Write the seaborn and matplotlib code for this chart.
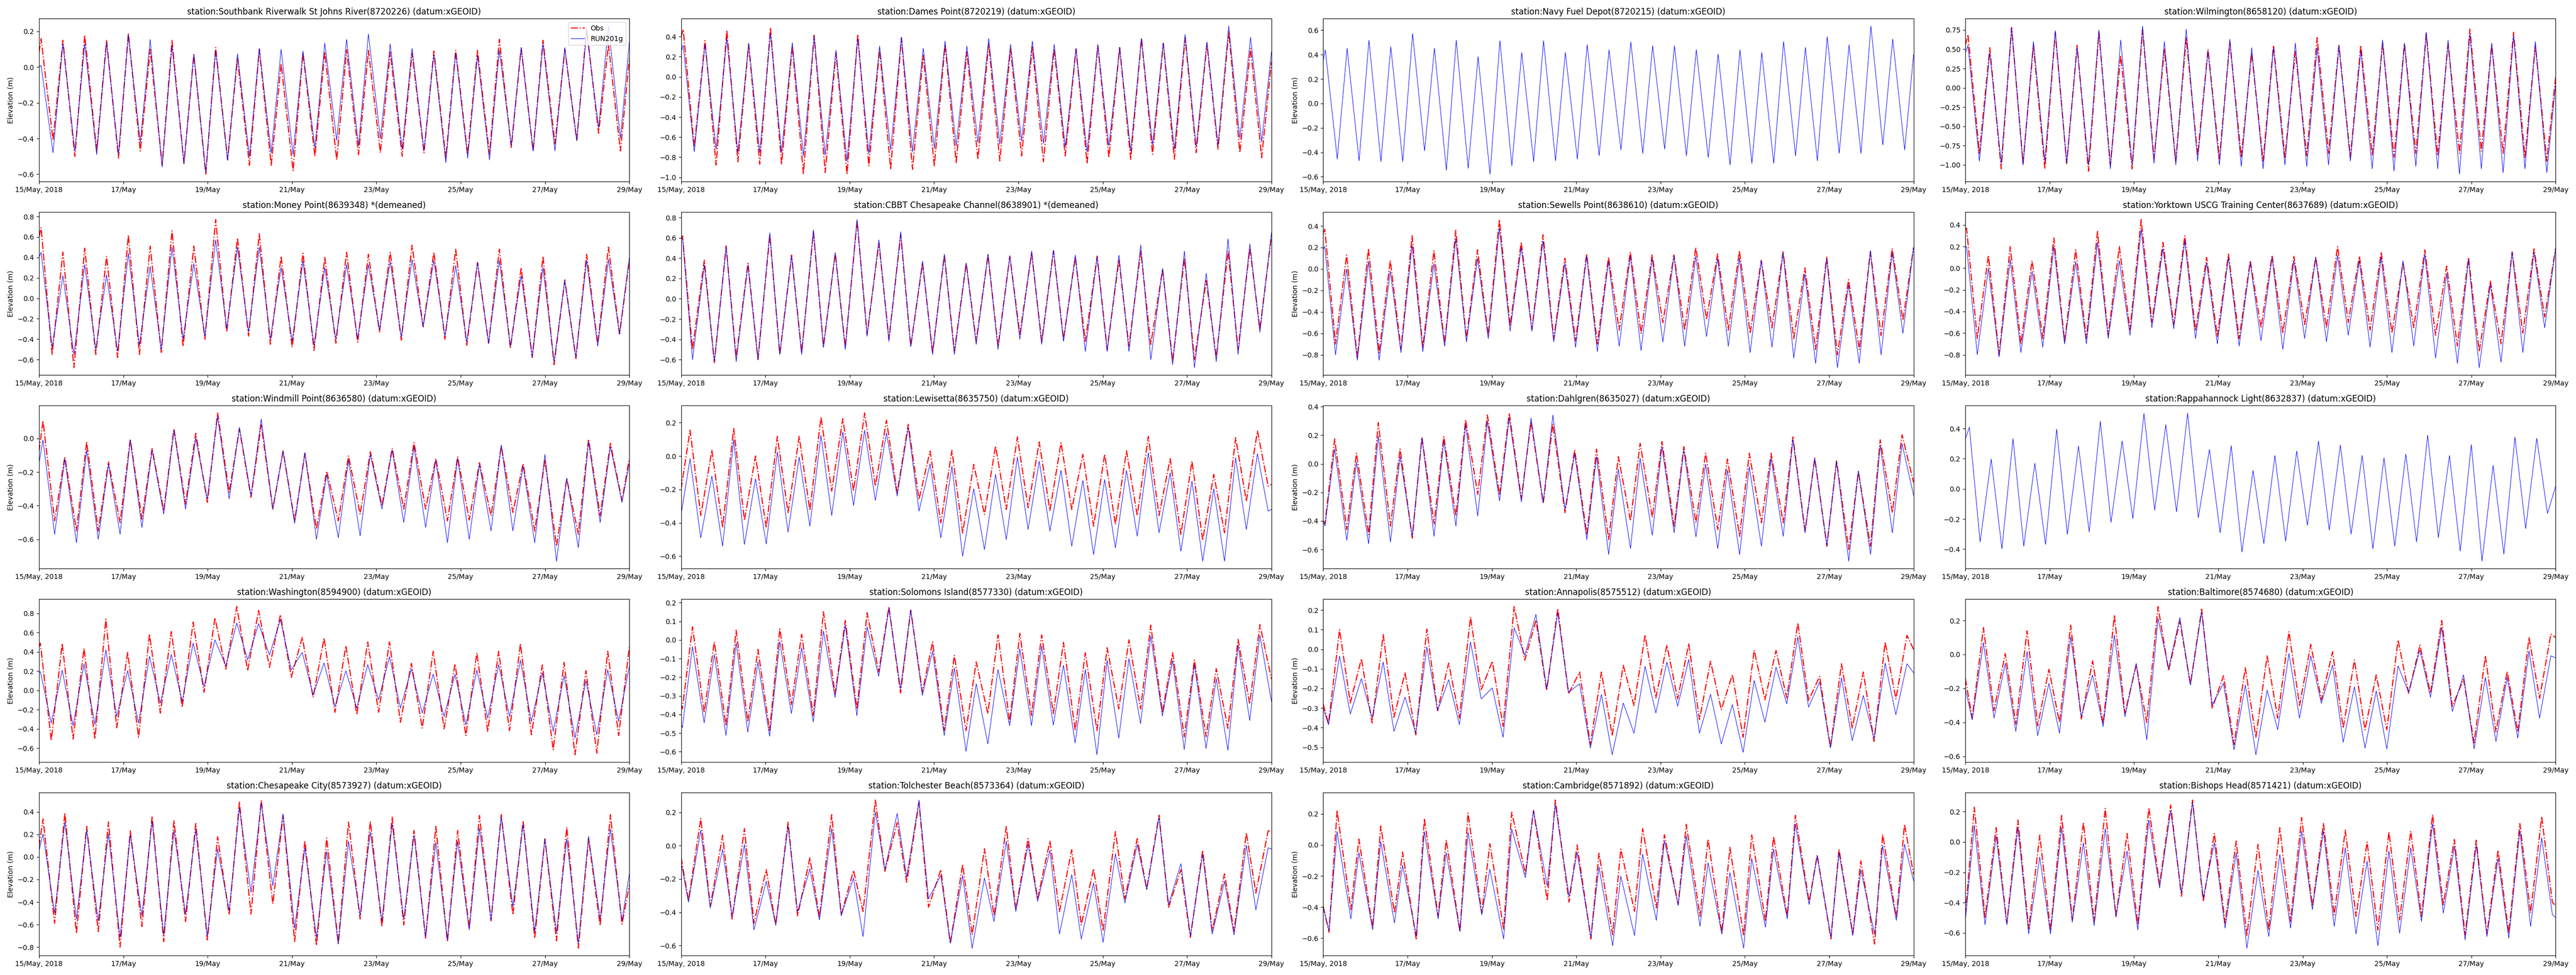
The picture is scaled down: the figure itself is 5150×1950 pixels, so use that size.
import matplotlib
matplotlib.use("Agg")
import matplotlib.pyplot as plt
import seaborn as sns

# Reloj semidiurno (12.42 h) contado desde la primera pleamar / bajamar de cada estación
tide_clock = [0.0, 12.42, 24.84, 37.26, 49.68, 62.10, 74.52, 86.94, 99.36,
              111.78, 124.20, 136.62, 149.04, 161.46, 173.88, 186.30, 198.72,
              211.14, 223.56, 235.98, 248.40, 260.82, 273.24, 285.66, 298.08,
              310.50, 322.92]

# Eje x: horas desde 15/May/2018 00:00
tick_hours = [0, 48, 96, 144, 192, 240, 288, 336]
tick_labels = ["15/May, 2018", "17/May", "19/May", "21/May", "23/May", "25/May", "27/May", "29/May"]

titles = [
    "station:Southbank Riverwalk St Johns River(8720226) (datum:xGEOID)",
    "station:Dames Point(8720219) (datum:xGEOID)",
    "station:Navy Fuel Depot(8720215) (datum:xGEOID)",
    "station:Wilmington(8658120) (datum:xGEOID)",
    "station:Money Point(8639348) *(demeaned)",
    "station:CBBT Chesapeake Channel(8638901) *(demeaned)",
    "station:Sewells Point(8638610) (datum:xGEOID)",
    "station:Yorktown USCG Training Center(8637689) (datum:xGEOID)",
    "station:Windmill Point(8636580) (datum:xGEOID)",
    "station:Lewisetta(8635750) (datum:xGEOID)",
    "station:Dahlgren(8635027) (datum:xGEOID)",
    "station:Rappahannock Light(8632837) (datum:xGEOID)",
    "station:Washington(8594900) (datum:xGEOID)",
    "station:Solomons Island(8577330) (datum:xGEOID)",
    "station:Annapolis(8575512) (datum:xGEOID)",
    "station:Baltimore(8574680) (datum:xGEOID)",
    "station:Chesapeake City(8573927) (datum:xGEOID)",
    "station:Tolchester Beach(8573364) (datum:xGEOID)",
    "station:Cambridge(8571892) (datum:xGEOID)",
    "station:Bishops Head(8571421) (datum:xGEOID)",
]

# hora de la primera pleamar y de la primera bajamar
high_hour0 = [1.2, 1.2, 1.2, 1.5, 1.2, 0.8, 0.9, 0.7, 2.3, 5.1,
              6.5, 2.3, 0.8, 6.5, 9.3, 10.3, 2.3, 11.2, 7.9, 5.1]
low_hour0 = [8.0, 7.5, 8.0, 8.0, 7.5, 6.5, 7.0, 6.8, 8.9, 11.2,
             1.0, 8.4, 7.0, 0.7, 3.0, 3.9, 8.9, 4.2, 3.3, 11.2]

# valores en el borde izquierdo (15/May) y derecho (29/May)
obs_start = [0.08, 0.40, None, 0.55, 0.60, 0.60, 0.33, 0.36, -0.08, -0.20,
             -0.40, None, 0.45, -0.35, -0.28, -0.14, 0.09, -0.07, -0.395, -0.48]
obs_end = [0.05, 0.15, None, 0.15, 0.37, 0.62, 0.20, 0.19, -0.12, -0.17,
           -0.13, None, 0.45, -0.21, 0.0, 0.10, -0.25, 0.085, -0.19, -0.42]
mod_start = [0.0, 0.25, 0.35, 0.45, 0.40, 0.58, 0.18, 0.19, -0.15, -0.35,
             -0.40, 0.33, 0.18, -0.45, -0.30, -0.20, 0.05, -0.10, -0.40, -0.52]
mod_end = [0.14, 0.25, 0.40, 0.05, 0.40, 0.65, 0.20, 0.19, -0.15, -0.32,
           -0.22, 0.02, 0.25, -0.33, -0.12, -0.02, -0.15, -0.02, -0.23, -0.50]

# ---- Southbank Riverwalk St Johns River
southbank_obs_hi = [0.16, 0.15, 0.18, 0.15, 0.19, 0.10, 0.15, 0.07, 0.11, 0.05, 0.10, 0.02, 0.08, 0.085,
                    0.097, 0.094, 0.085, 0.08, 0.09, 0.094, 0.094, 0.156, 0.108, 0.15, 0.10, 0.215, 0.127]
southbank_obs_lo = [-0.41, -0.50, -0.47, -0.51, -0.47, -0.55, -0.54, -0.60, -0.52, -0.55, -0.55, -0.58, -0.50, -0.52,
                    -0.49, -0.48, -0.50, -0.48, -0.51, -0.49, -0.49, -0.45, -0.47, -0.43, -0.41, -0.37, -0.47]
southbank_mod_hi = [0.01, 0.13, 0.13, 0.14, 0.18, 0.155, 0.12, 0.07, 0.09, 0.075, 0.105, 0.10, 0.09, 0.135,
                    0.155, 0.185, 0.13, 0.105, 0.07, 0.08, 0.065, 0.095, 0.11, 0.13, 0.11, 0.20, 0.23]
southbank_mod_lo = [-0.48, -0.47, -0.49, -0.49, -0.42, -0.56, -0.54, -0.59, -0.52, -0.50, -0.48, -0.49, -0.45, -0.41,
                    -0.44, -0.40, -0.46, -0.465, -0.535, -0.51, -0.52, -0.44, -0.47, -0.47, -0.41, -0.34, -0.40]

# ---- Dames Point
dames_obs_hi = [0.472, 0.361, 0.464, 0.323, 0.489, 0.306, 0.414, 0.24, 0.422, 0.273, 0.389, 0.215, 0.323, 0.249,
                0.331, 0.278, 0.298, 0.278, 0.278, 0.315, 0.29, 0.384, 0.331, 0.389, 0.331, 0.45, 0.282]
dames_obs_lo = [-0.70, -0.878, -0.845, -0.87, -0.87, -0.969, -0.953, -0.969, -0.886, -0.92, -0.92, -0.886, -0.853, -0.82,
                -0.837, -0.787, -0.845, -0.787, -0.862, -0.804, -0.82, -0.77, -0.82, -0.754, -0.72, -0.754, -0.804]
dames_mod_hi = [0.315, 0.323, 0.381, 0.335, 0.431, 0.34, 0.406, 0.265, 0.381, 0.306, 0.394, 0.285, 0.356, 0.306,
                0.381, 0.323, 0.356, 0.323, 0.282, 0.315, 0.295, 0.381, 0.34, 0.422, 0.348, 0.505, 0.394]
dames_mod_lo = [-0.746, -0.72, -0.754, -0.754, -0.754, -0.787, -0.779, -0.837, -0.762, -0.729, -0.746, -0.712, -0.688, -0.654,
                -0.671, -0.638, -0.663, -0.696, -0.746, -0.688, -0.737, -0.679, -0.72, -0.696, -0.679, -0.613, -0.646]

# ---- Navy Fuel Depot (sin observaciones)
navy_mod_hi = [0.439, 0.452, 0.518, 0.466, 0.573, 0.452, 0.518, 0.384, 0.514, 0.418, 0.514, 0.418, 0.482, 0.439,
               0.504, 0.473, 0.473, 0.441, 0.405, 0.439, 0.418, 0.507, 0.459, 0.548, 0.48, 0.634, 0.528]
navy_mod_lo = [-0.456, -0.47, -0.477, -0.477, -0.388, -0.548, -0.532, -0.58, -0.511, -0.477, -0.47, -0.456, -0.429, -0.381,
               -0.409, -0.374, -0.429, -0.443, -0.504, -0.491, -0.491, -0.429, -0.47, -0.409, -0.409, -0.34, -0.381]

# ---- Wilmington
wilmington_obs_hi = [0.69, 0.52, 0.78, 0.55, 0.72, 0.55, 0.72, 0.42, 0.75, 0.50, 0.65, 0.50, 0.60, 0.45,
                     0.55, 0.47, 0.65, 0.55, 0.55, 0.58, 0.57, 0.70, 0.57, 0.76, 0.55, 0.72, 0.55]
wilmington_obs_lo = [-0.85, -1.05, -0.98, -1.05, -0.98, -1.08, -1.0, -1.05, -0.92, -0.95, -0.88, -0.92, -0.90, -0.95,
                     -0.90, -0.88, -0.85, -0.90, -0.87, -0.90, -0.85, -0.88, -0.85, -0.82, -0.85, -0.90, -0.95]
wilmington_mod_hi = [0.55, 0.45, 0.78, 0.60, 0.74, 0.52, 0.75, 0.62, 0.80, 0.60, 0.76, 0.48, 0.63, 0.52,
                     0.52, 0.58, 0.52, 0.55, 0.48, 0.62, 0.58, 0.72, 0.62, 0.70, 0.58, 0.68, 0.60]
wilmington_mod_lo = [-0.95, -0.98, -1.0, -0.95, -0.98, -1.0, -1.05, -1.0, -0.98, -1.0, -0.95, -1.0, -1.02, -1.05,
                     -1.0, -1.02, -1.0, -0.95, -1.05, -1.08, -1.02, -1.05, -1.12, -1.05, -1.10, -1.05, -1.10]

# ---- Money Point
money_obs_hi = [0.69, 0.45, 0.49, 0.41, 0.62, 0.51, 0.66, 0.51, 0.77, 0.59, 0.63, 0.41, 0.44, 0.40,
                0.45, 0.43, 0.45, 0.52, 0.45, 0.48, 0.35, 0.48, 0.30, 0.41, 0.18, 0.43, 0.50]
money_obs_lo = [-0.55, -0.68, -0.55, -0.58, -0.55, -0.53, -0.47, -0.40, -0.33, -0.37, -0.45, -0.48, -0.51, -0.44,
                -0.43, -0.33, -0.41, -0.28, -0.40, -0.46, -0.44, -0.49, -0.58, -0.65, -0.59, -0.45, -0.35]
money_mod_hi = [0.45, 0.22, 0.33, 0.23, 0.44, 0.31, 0.50, 0.34, 0.57, 0.50, 0.50, 0.30, 0.36, 0.30,
                0.33, 0.33, 0.36, 0.38, 0.37, 0.32, 0.35, 0.37, 0.22, 0.30, 0.17, 0.37, 0.38]
money_mod_lo = [-0.48, -0.55, -0.50, -0.52, -0.46, -0.50, -0.40, -0.37, -0.30, -0.33, -0.40, -0.42, -0.46, -0.40,
                -0.40, -0.31, -0.38, -0.28, -0.37, -0.43, -0.44, -0.47, -0.57, -0.62, -0.58, -0.47, -0.35]

# ---- CBBT Chesapeake Channel
cbbt_obs_hi = [0.62, 0.38, 0.52, 0.35, 0.63, 0.43, 0.66, 0.45, 0.77, 0.55, 0.63, 0.35, 0.43, 0.35,
               0.43, 0.42, 0.45, 0.47, 0.41, 0.42, 0.38, 0.47, 0.29, 0.40, 0.18, 0.47, 0.50]
cbbt_obs_lo = [-0.50, -0.63, -0.58, -0.60, -0.55, -0.53, -0.47, -0.48, -0.35, -0.40, -0.47, -0.53, -0.52, -0.42,
               -0.47, -0.35, -0.42, -0.40, -0.42, -0.50, -0.47, -0.45, -0.62, -0.60, -0.58, -0.50, -0.30]
cbbt_mod_hi = [0.60, 0.33, 0.51, 0.33, 0.65, 0.42, 0.68, 0.45, 0.78, 0.58, 0.66, 0.37, 0.44, 0.35,
               0.44, 0.42, 0.47, 0.48, 0.43, 0.41, 0.43, 0.53, 0.30, 0.47, 0.25, 0.59, 0.54]
cbbt_mod_lo = [-0.60, -0.62, -0.62, -0.60, -0.55, -0.55, -0.48, -0.50, -0.37, -0.42, -0.47, -0.55, -0.55, -0.45,
               -0.50, -0.40, -0.45, -0.42, -0.52, -0.52, -0.52, -0.60, -0.65, -0.68, -0.62, -0.55, -0.33]

# ---- Sewells Point
sewells_obs_hi = [0.37, 0.13, 0.19, 0.08, 0.31, 0.17, 0.36, 0.18, 0.46, 0.25, 0.32, 0.10, 0.14, 0.11,
                  0.16, 0.13, 0.13, 0.20, 0.14, 0.17, 0.08, 0.16, 0.01, 0.11, -0.10, 0.16, 0.19]
sewells_obs_lo = [-0.70, -0.83, -0.78, -0.75, -0.73, -0.70, -0.65, -0.62, -0.53, -0.56, -0.65, -0.67, -0.70, -0.57,
                  -0.60, -0.50, -0.57, -0.47, -0.57, -0.60, -0.55, -0.65, -0.75, -0.80, -0.75, -0.62, -0.48]
sewells_mod_hi = [0.21, 0.0, 0.07, -0.02, 0.22, 0.05, 0.28, 0.10, 0.38, 0.20, 0.26, 0.05, 0.12, 0.07,
                  0.12, 0.10, 0.12, 0.12, 0.10, 0.10, 0.08, 0.15, -0.05, 0.10, -0.15, 0.17, 0.15]
sewells_mod_lo = [-0.80, -0.85, -0.85, -0.78, -0.77, -0.72, -0.68, -0.65, -0.58, -0.58, -0.68, -0.73, -0.77, -0.72,
                  -0.76, -0.68, -0.72, -0.63, -0.72, -0.78, -0.73, -0.83, -0.88, -0.92, -0.88, -0.80, -0.60]

# ---- Yorktown USCG Training Center
yorktown_obs_hi = [0.37, 0.12, 0.20, 0.07, 0.28, 0.17, 0.34, 0.20, 0.45, 0.24, 0.30, 0.10, 0.13, 0.07,
                   0.12, 0.11, 0.10, 0.20, 0.11, 0.15, 0.05, 0.17, 0.02, 0.10, -0.12, 0.15, 0.18]
yorktown_obs_lo = [-0.65, -0.80, -0.70, -0.65, -0.68, -0.65, -0.62, -0.57, -0.50, -0.52, -0.58, -0.63, -0.65, -0.55,
                   -0.60, -0.52, -0.55, -0.50, -0.57, -0.60, -0.55, -0.62, -0.72, -0.77, -0.70, -0.60, -0.45]
yorktown_mod_hi = [0.20, 0.0, 0.08, -0.03, 0.20, 0.06, 0.24, 0.07, 0.36, 0.18, 0.25, 0.05, 0.10, 0.05,
                   0.10, 0.07, 0.10, 0.12, 0.07, 0.10, 0.07, 0.13, -0.05, 0.08, -0.15, 0.15, 0.15]
yorktown_mod_lo = [-0.80, -0.82, -0.78, -0.73, -0.70, -0.70, -0.65, -0.62, -0.55, -0.56, -0.65, -0.70, -0.72, -0.67,
                   -0.75, -0.65, -0.68, -0.62, -0.73, -0.78, -0.72, -0.83, -0.88, -0.92, -0.87, -0.78, -0.55]

# ---- Windmill Point
windmill_obs_hi = [0.105, -0.11, -0.02, -0.14, -0.005, -0.06, 0.056, 0.03, 0.15, 0.056, 0.08, -0.075, -0.09, -0.195,
                   -0.105, -0.08, -0.06, -0.025, -0.12, -0.11, -0.145, -0.045, -0.15, -0.13, -0.24, -0.005, -0.03]
windmill_obs_lo = [-0.49, -0.55, -0.55, -0.50, -0.48, -0.43, -0.39, -0.38, -0.32, -0.35, -0.42, -0.49, -0.54, -0.49,
                   -0.45, -0.40, -0.42, -0.42, -0.49, -0.485, -0.46, -0.44, -0.55, -0.64, -0.57, -0.46, -0.37]
windmill_mod_hi = [-0.01, -0.125, -0.07, -0.155, -0.01, -0.07, 0.05, 0.0, 0.13, 0.065, 0.115, -0.075, -0.085, -0.215,
                   -0.13, -0.095, -0.07, -0.05, -0.13, -0.12, -0.155, -0.04, -0.165, -0.095, -0.235, -0.02, -0.05]
windmill_mod_lo = [-0.57, -0.62, -0.60, -0.57, -0.53, -0.45, -0.42, -0.36, -0.36, -0.34, -0.42, -0.505, -0.60, -0.59,
                   -0.58, -0.42, -0.50, -0.53, -0.62, -0.60, -0.55, -0.55, -0.62, -0.73, -0.65, -0.50, -0.38]

# ---- Lewisetta
lewisetta_obs_hi = [0.155, 0.034, 0.165, 0.0, 0.117, 0.117, 0.234, 0.224, 0.257, 0.214, 0.19, 0.03, 0.034, -0.05,
                    0.06, 0.114, 0.084, 0.079, 0.01, 0.011, 0.031, 0.117, -0.016, -0.031, -0.11, 0.11, 0.15]
lewisetta_obs_lo = [-0.356, -0.427, -0.386, -0.43, -0.34, -0.326, -0.21, -0.21, -0.18, -0.22, -0.26, -0.40, -0.46, -0.35,
                    -0.32, -0.31, -0.326, -0.32, -0.42, -0.41, -0.356, -0.356, -0.47, -0.505, -0.46, -0.27, -0.18]
lewisetta_mod_hi = [-0.016, -0.12, 0.097, -0.136, 0.024, -0.006, 0.124, 0.144, 0.154, 0.139, 0.17, -0.046, -0.061, -0.196,
                    -0.11, -0.006, -0.031, -0.086, -0.146, -0.141, -0.086, 0.019, -0.10, -0.15, -0.196, -0.011, 0.014]
lewisetta_mod_lo = [-0.49, -0.54, -0.53, -0.527, -0.456, -0.42, -0.356, -0.296, -0.266, -0.24, -0.33, -0.49, -0.60, -0.56,
                    -0.50, -0.44, -0.45, -0.54, -0.59, -0.55, -0.48, -0.46, -0.57, -0.63, -0.63, -0.44, -0.33]

# ---- Dahlgren
dahlgren_obs_hi = [0.174, 0.074, 0.288, 0.103, 0.185, 0.19, 0.308, 0.341, 0.355, 0.297, 0.279, 0.097, 0.103, 0.05,
                   0.144, 0.156, 0.12, 0.074, 0.033, 0.074, 0.074, 0.188, 0.039, 0.02, -0.055, 0.168, 0.203]
dahlgren_obs_lo = [-0.42, -0.46, -0.495, -0.436, -0.52, -0.42, -0.366, -0.213, -0.22, -0.243, -0.278, -0.342, -0.495, -0.53,
                   -0.40, -0.377, -0.436, -0.413, -0.46, -0.508, -0.413, -0.413, -0.471, -0.577, -0.60, -0.577, -0.342]
dahlgren_mod_hi = [0.103, 0.01, 0.195, 0.05, 0.183, 0.16, 0.273, 0.297, 0.32, 0.32, 0.341, 0.068, 0.05, -0.038,
                   0.039, 0.12, 0.097, -0.002, -0.043, -0.02, 0.039, 0.168, 0.039, 0.02, -0.05, 0.13, 0.14]
dahlgren_mod_lo = [-0.436, -0.536, -0.56, -0.547, -0.508, -0.508, -0.436, -0.366, -0.26, -0.266, -0.272, -0.319, -0.53, -0.635,
                   -0.594, -0.50, -0.483, -0.512, -0.594, -0.635, -0.577, -0.508, -0.483, -0.571, -0.682, -0.635, -0.483]

# ---- Rappahannock Light (sin observaciones)
rappahannock_mod_hi = [0.41, 0.198, 0.333, 0.17, 0.396, 0.284, 0.448, 0.318, 0.50, 0.426, 0.503, 0.261, 0.287, 0.122,
                       0.222, 0.251, 0.317, 0.291, 0.222, 0.206, 0.231, 0.356, 0.222, 0.294, 0.156, 0.344, 0.336]
rappahannock_mod_lo = [-0.352, -0.397, -0.38, -0.369, -0.302, -0.286, -0.222, -0.197, -0.141, -0.152, -0.191, -0.291, -0.419, -0.363,
                       -0.347, -0.241, -0.274, -0.30, -0.397, -0.38, -0.352, -0.324, -0.413, -0.48, -0.433, -0.263, -0.163]

# ---- Washington
washington_obs_hi = [0.49, 0.486, 0.437, 0.74, 0.394, 0.584, 0.61, 0.71, 0.752, 0.87, 0.83, 0.786, 0.55, 0.544,
                     0.463, 0.503, 0.503, 0.28, 0.406, 0.273, 0.389, 0.406, 0.486, 0.264, 0.29, 0.204, 0.406]
washington_obs_lo = [-0.522, -0.505, -0.505, -0.389, -0.487, -0.237, -0.176, -0.021, 0.221, 0.204, 0.239, 0.135, -0.073, -0.228,
                     -0.254, -0.228, -0.332, -0.392, -0.40, -0.47, -0.427, -0.418, -0.461, -0.617, -0.669, -0.652, -0.47]
washington_mod_hi = [0.195, 0.209, 0.273, 0.42, 0.204, 0.354, 0.372, 0.49, 0.524, 0.70, 0.693, 0.735, 0.394, 0.285,
                     0.204, 0.268, 0.35, 0.221, 0.169, 0.166, 0.21, 0.268, 0.313, 0.181, 0.152, 0.10, 0.213]
washington_mod_lo = [-0.34, -0.366, -0.354, -0.271, -0.34, -0.133, -0.116, 0.04, 0.256, 0.316, 0.368, 0.213, -0.047, -0.168,
                     -0.185, -0.099, -0.185, -0.237, -0.271, -0.358, -0.289, -0.271, -0.323, -0.427, -0.496, -0.461, -0.323]

# ---- Solomons Island
solomons_obs_hi = [0.07, -0.011, 0.052, -0.051, 0.059, 0.03, 0.151, 0.104, 0.146, 0.179, 0.16, -0.011, -0.083, -0.118,
                   0.027, 0.036, 0.027, -0.013, -0.069, -0.042, 0.0, 0.079, -0.069, -0.108, -0.154, 0.003, 0.083]
solomons_obs_lo = [-0.37, -0.39, -0.46, -0.44, -0.486, -0.347, -0.405, -0.289, -0.37, -0.172, -0.284, -0.28, -0.486, -0.486,
                   -0.395, -0.44, -0.405, -0.395, -0.486, -0.486, -0.37, -0.37, -0.39, -0.52, -0.52, -0.475, -0.343]
solomons_mod_hi = [-0.036, -0.078, -0.015, -0.118, -0.009, -0.042, 0.048, 0.079, 0.07, 0.169, 0.161, -0.06, -0.15, -0.235,
                   -0.159, -0.047, -0.033, -0.136, -0.159, -0.11, -0.10, 0.021, -0.11, -0.132, -0.208, -0.029, 0.025]
solomons_mod_lo = [-0.47, -0.445, -0.513, -0.495, -0.517, -0.395, -0.44, -0.309, -0.407, -0.195, -0.262, -0.298, -0.513, -0.598,
                   -0.558, -0.46, -0.46, -0.457, -0.553, -0.616, -0.527, -0.449, -0.408, -0.588, -0.583, -0.592, -0.432]

# ---- Annapolis
annapolis_obs_hi = [0.10, -0.048, 0.075, -0.12, 0.103, -0.07, 0.165, -0.061, 0.218, 0.148, 0.208, -0.116, -0.116, -0.082,
                    0.073, 0.02, 0.028, -0.061, -0.129, -0.004, -0.006, 0.135, -0.138, -0.074, -0.116, 0.037, 0.071]
annapolis_obs_lo = [-0.38, -0.274, -0.376, -0.347, -0.436, -0.313, -0.35, -0.206, -0.393, -0.055, -0.21, -0.227, -0.487, -0.44,
                    -0.287, -0.248, -0.253, -0.359, -0.308, -0.449, -0.257, -0.248, -0.261, -0.50, -0.402, -0.47, -0.253]
annapolis_mod_hi = [-0.035, -0.15, -0.065, -0.244, 0.012, -0.155, 0.037, -0.197, 0.11, 0.178, 0.187, -0.176, -0.23, -0.274,
                    -0.087, -0.065, -0.052, -0.23, -0.282, -0.159, -0.091, 0.063, -0.167, -0.146, -0.236, -0.07, -0.074]
annapolis_mod_lo = [-0.385, -0.33, -0.35, -0.419, -0.428, -0.313, -0.385, -0.253, -0.449, -0.031, -0.202, -0.219, -0.504, -0.538,
                    -0.428, -0.325, -0.291, -0.428, -0.483, -0.526, -0.372, -0.278, -0.295, -0.504, -0.466, -0.457, -0.334]

# ---- Baltimore
baltimore_obs_hi = [0.158, 0.006, 0.139, -0.087, 0.173, -0.038, 0.231, -0.062, 0.282, 0.197, 0.266, -0.125, -0.077, -0.008,
                    0.134, 0.06, 0.016, -0.033, -0.12, 0.085, 0.055, 0.20, -0.145, -0.008, -0.10, 0.099, 0.119]
baltimore_obs_lo = [-0.375, -0.33, -0.41, -0.42, -0.40, -0.38, -0.41, -0.346, -0.40, -0.096, -0.175, -0.316, -0.53, -0.488,
                    -0.375, -0.30, -0.267, -0.434, -0.443, -0.443, -0.228, -0.228, -0.306, -0.52, -0.456, -0.456, -0.258]
baltimore_mod_hi = [0.07, -0.052, 0.016, -0.17, 0.104, -0.12, 0.114, -0.052, 0.212, 0.217, 0.251, -0.17, -0.18, -0.21,
                    0.006, -0.008, -0.062, -0.19, -0.214, -0.067, 0.026, 0.158, -0.12, -0.135, -0.135, 0.021, -0.008]
baltimore_mod_lo = [-0.385, -0.375, -0.453, -0.478, -0.463, -0.366, -0.424, -0.366, -0.502, -0.082, -0.18, -0.297, -0.561, -0.59,
                    -0.443, -0.375, -0.287, -0.517, -0.551, -0.556, -0.223, -0.252, -0.336, -0.556, -0.512, -0.492, -0.375]

# ---- Chesapeake City
chescity_obs_hi = [0.338, 0.39, 0.271, 0.311, 0.231, 0.36, 0.32, 0.296, 0.178, 0.486, 0.504, 0.367, 0.145, 0.167,
                   0.308, 0.316, 0.353, 0.234, 0.271, 0.234, 0.367, 0.375, 0.32, 0.16, 0.264, 0.16, 0.375]
chescity_obs_lo = [-0.588, -0.677, -0.662, -0.80, -0.618, -0.751, -0.573, -0.736, -0.514, -0.507, -0.418, -0.751, -0.785, -0.766,
                   -0.551, -0.618, -0.603, -0.721, -0.751, -0.633, -0.566, -0.514, -0.721, -0.744, -0.81, -0.61, -0.596]
chescity_mod_hi = [0.204, 0.308, 0.234, 0.204, 0.197, 0.316, 0.234, 0.241, 0.071, 0.434, 0.478, 0.382, 0.079, 0.049,
                   0.138, 0.219, 0.293, 0.19, 0.13, 0.138, 0.256, 0.353, 0.286, 0.16, 0.16, 0.182, 0.249]
chescity_mod_lo = [-0.50, -0.551, -0.566, -0.714, -0.521, -0.692, -0.507, -0.70, -0.477, -0.314, -0.255, -0.633, -0.714, -0.773,
                   -0.521, -0.566, -0.551, -0.707, -0.736, -0.647, -0.559, -0.44, -0.662, -0.67, -0.766, -0.551, -0.566]

# ---- Tolchester Beach
tolchester_obs_hi = [0.163, 0.062, 0.102, -0.144, 0.14, -0.073, 0.186, -0.149, 0.273, 0.138, 0.258, -0.144, -0.113, -0.018,
                     0.115, 0.042, 0.027, -0.025, -0.139, 0.085, 0.042, 0.183, -0.144, -0.028, -0.169, 0.077, 0.089]
tolchester_obs_lo = [-0.329, -0.364, -0.44, -0.465, -0.475, -0.42, -0.43, -0.415, -0.395, -0.154, -0.219, -0.369, -0.585, -0.535,
                     -0.42, -0.385, -0.319, -0.395, -0.475, -0.51, -0.319, -0.259, -0.369, -0.55, -0.51, -0.515, -0.284]
tolchester_mod_hi = [0.092, -0.023, 0.007, -0.214, 0.117, -0.139, 0.102, -0.194, 0.203, 0.193, 0.273, -0.179, -0.179, -0.194,
                     0.027, 0.007, -0.028, -0.174, -0.224, -0.048, 0.007, 0.168, -0.108, -0.053, -0.214, 0.002, -0.013]
tolchester_mod_lo = [-0.339, -0.374, -0.425, -0.505, -0.475, -0.395, -0.445, -0.42, -0.545, -0.144, -0.189, -0.319, -0.585, -0.615,
                     -0.455, -0.395, -0.334, -0.53, -0.56, -0.58, -0.344, -0.264, -0.354, -0.54, -0.53, -0.535, -0.385]

# ---- Cambridge
cambridge_obs_hi = [0.222, 0.038, 0.122, -0.046, 0.168, 0.032, 0.205, 0.008, 0.211, 0.222, 0.289, 0.0, -0.054, -0.027,
                    0.105, 0.065, 0.133, 0.038, -0.016, 0.065, 0.054, 0.191, -0.065, -0.027, -0.103, 0.068, 0.133]
cambridge_obs_lo = [-0.562, -0.416, -0.535, -0.438, -0.611, -0.459, -0.557, -0.438, -0.54, -0.184, -0.357, -0.368, -0.605, -0.578,
                    -0.427, -0.405, -0.384, -0.459, -0.567, -0.584, -0.492, -0.459, -0.368, -0.605, -0.573, -0.638, -0.47]
cambridge_mod_hi = [0.086, -0.049, 0.022, -0.13, 0.086, -0.049, 0.081, -0.157, 0.103, 0.222, 0.259, -0.049, -0.141, -0.20,
                    -0.059, 0.027, 0.059, -0.114, -0.178, -0.086, -0.027, 0.135, -0.07, -0.049, -0.162, -0.005, 0.005]
cambridge_mod_lo = [-0.551, -0.476, -0.546, -0.503, -0.584, -0.476, -0.557, -0.449, -0.605, -0.211, -0.265, -0.33, -0.595, -0.649,
                    -0.584, -0.486, -0.389, -0.524, -0.573, -0.665, -0.53, -0.476, -0.384, -0.595, -0.584, -0.573, -0.486]

# ---- Bishops Head
bishops_obs_hi = [0.23, 0.095, 0.145, 0.045, 0.175, 0.13, 0.222, 0.056, 0.227, 0.244, 0.277, 0.056, 0.006, -0.016,
                  0.095, 0.161, 0.122, 0.078, 0.0, 0.067, 0.073, 0.181, 0.017, 0.012, -0.055, 0.122, 0.167]
bishops_obs_lo = [-0.497, -0.536, -0.575, -0.586, -0.514, -0.525, -0.492, -0.547, -0.281, -0.359, -0.392, -0.536, -0.619, -0.581,
                  -0.525, -0.425, -0.481, -0.492, -0.581, -0.514, -0.492, -0.414, -0.614, -0.608, -0.603, -0.47, -0.40]
bishops_mod_hi = [0.111, 0.039, 0.095, -0.099, 0.095, -0.005, 0.089, -0.06, 0.145, 0.206, 0.261, -0.005, -0.071, -0.187,
                  -0.082, 0.073, 0.073, -0.038, -0.127, -0.06, -0.038, 0.122, -0.027, -0.022, -0.11, 0.073, 0.028]
bishops_mod_lo = [-0.547, -0.547, -0.608, -0.608, -0.53, -0.553, -0.492, -0.581, -0.304, -0.337, -0.37, -0.569, -0.702, -0.625,
                  -0.569, -0.447, -0.558, -0.608, -0.686, -0.603, -0.525, -0.47, -0.647, -0.625, -0.636, -0.558, -0.48]

# tabla (obs_hi, obs_lo, mod_hi, mod_lo) en el orden de los paneles
series_table = [
    (southbank_obs_hi, southbank_obs_lo, southbank_mod_hi, southbank_mod_lo),
    (dames_obs_hi, dames_obs_lo, dames_mod_hi, dames_mod_lo),
    (None, None, navy_mod_hi, navy_mod_lo),
    (wilmington_obs_hi, wilmington_obs_lo, wilmington_mod_hi, wilmington_mod_lo),
    (money_obs_hi, money_obs_lo, money_mod_hi, money_mod_lo),
    (cbbt_obs_hi, cbbt_obs_lo, cbbt_mod_hi, cbbt_mod_lo),
    (sewells_obs_hi, sewells_obs_lo, sewells_mod_hi, sewells_mod_lo),
    (yorktown_obs_hi, yorktown_obs_lo, yorktown_mod_hi, yorktown_mod_lo),
    (windmill_obs_hi, windmill_obs_lo, windmill_mod_hi, windmill_mod_lo),
    (lewisetta_obs_hi, lewisetta_obs_lo, lewisetta_mod_hi, lewisetta_mod_lo),
    (dahlgren_obs_hi, dahlgren_obs_lo, dahlgren_mod_hi, dahlgren_mod_lo),
    (None, None, rappahannock_mod_hi, rappahannock_mod_lo),
    (washington_obs_hi, washington_obs_lo, washington_mod_hi, washington_mod_lo),
    (solomons_obs_hi, solomons_obs_lo, solomons_mod_hi, solomons_mod_lo),
    (annapolis_obs_hi, annapolis_obs_lo, annapolis_mod_hi, annapolis_mod_lo),
    (baltimore_obs_hi, baltimore_obs_lo, baltimore_mod_hi, baltimore_mod_lo),
    (chescity_obs_hi, chescity_obs_lo, chescity_mod_hi, chescity_mod_lo),
    (tolchester_obs_hi, tolchester_obs_lo, tolchester_mod_hi, tolchester_mod_lo),
    (cambridge_obs_hi, cambridge_obs_lo, cambridge_mod_hi, cambridge_mod_lo),
    (bishops_obs_hi, bishops_obs_lo, bishops_mod_hi, bishops_mod_lo),
]


def serie(h0, l0, hi, lo, start, end):
    # junta pleamares y bajamares en orden temporal y añade los bordes
    pts = [(h0 + c, v) for c, v in zip(tide_clock, hi)] + [(l0 + c, v) for c, v in zip(tide_clock, lo)]
    pts = sorted(p for p in pts if 0 < p[0] < tick_hours[-1])
    t = [tick_hours[0]] + [p[0] for p in pts] + [tick_hours[-1]]
    v = [start] + [p[1] for p in pts] + [end]
    return t, v


fig, axes = plt.subplots(5, 4, figsize=(51.5, 19.5), dpi=100)

for i, ax in enumerate(axes.flat):
    obs_hi, obs_lo, mod_hi, mod_lo = series_table[i]
    if obs_hi is not None:
        t, v = serie(high_hour0[i], low_hour0[i], obs_hi, obs_lo, obs_start[i], obs_end[i])
        sns.lineplot(x=t, y=v, ax=ax, color="red", linestyle="-.", linewidth=1.6,
                     estimator=None, label="Obs")
    t, v = serie(high_hour0[i], low_hour0[i], mod_hi, mod_lo, mod_start[i], mod_end[i])
    sns.lineplot(x=t, y=v, ax=ax, color="blue", linewidth=0.7, estimator=None, label="RUN201g")

    ax.set_title(titles[i], fontsize=12)
    ax.set_xlim(tick_hours[0], tick_hours[-1])
    ax.set_xticks(tick_hours)
    ax.set_xticklabels(tick_labels)
    ax.set_xlabel("")
    ax.set_ylabel("Elevation (m)" if i % 2 == 0 else "")

    if i == 0:
        ax.legend(loc="upper right", fontsize=10)
    elif ax.get_legend() is not None:
        ax.get_legend().remove()

fig.tight_layout()
plt.savefig("out.png", dpi=100)
plt.close()
